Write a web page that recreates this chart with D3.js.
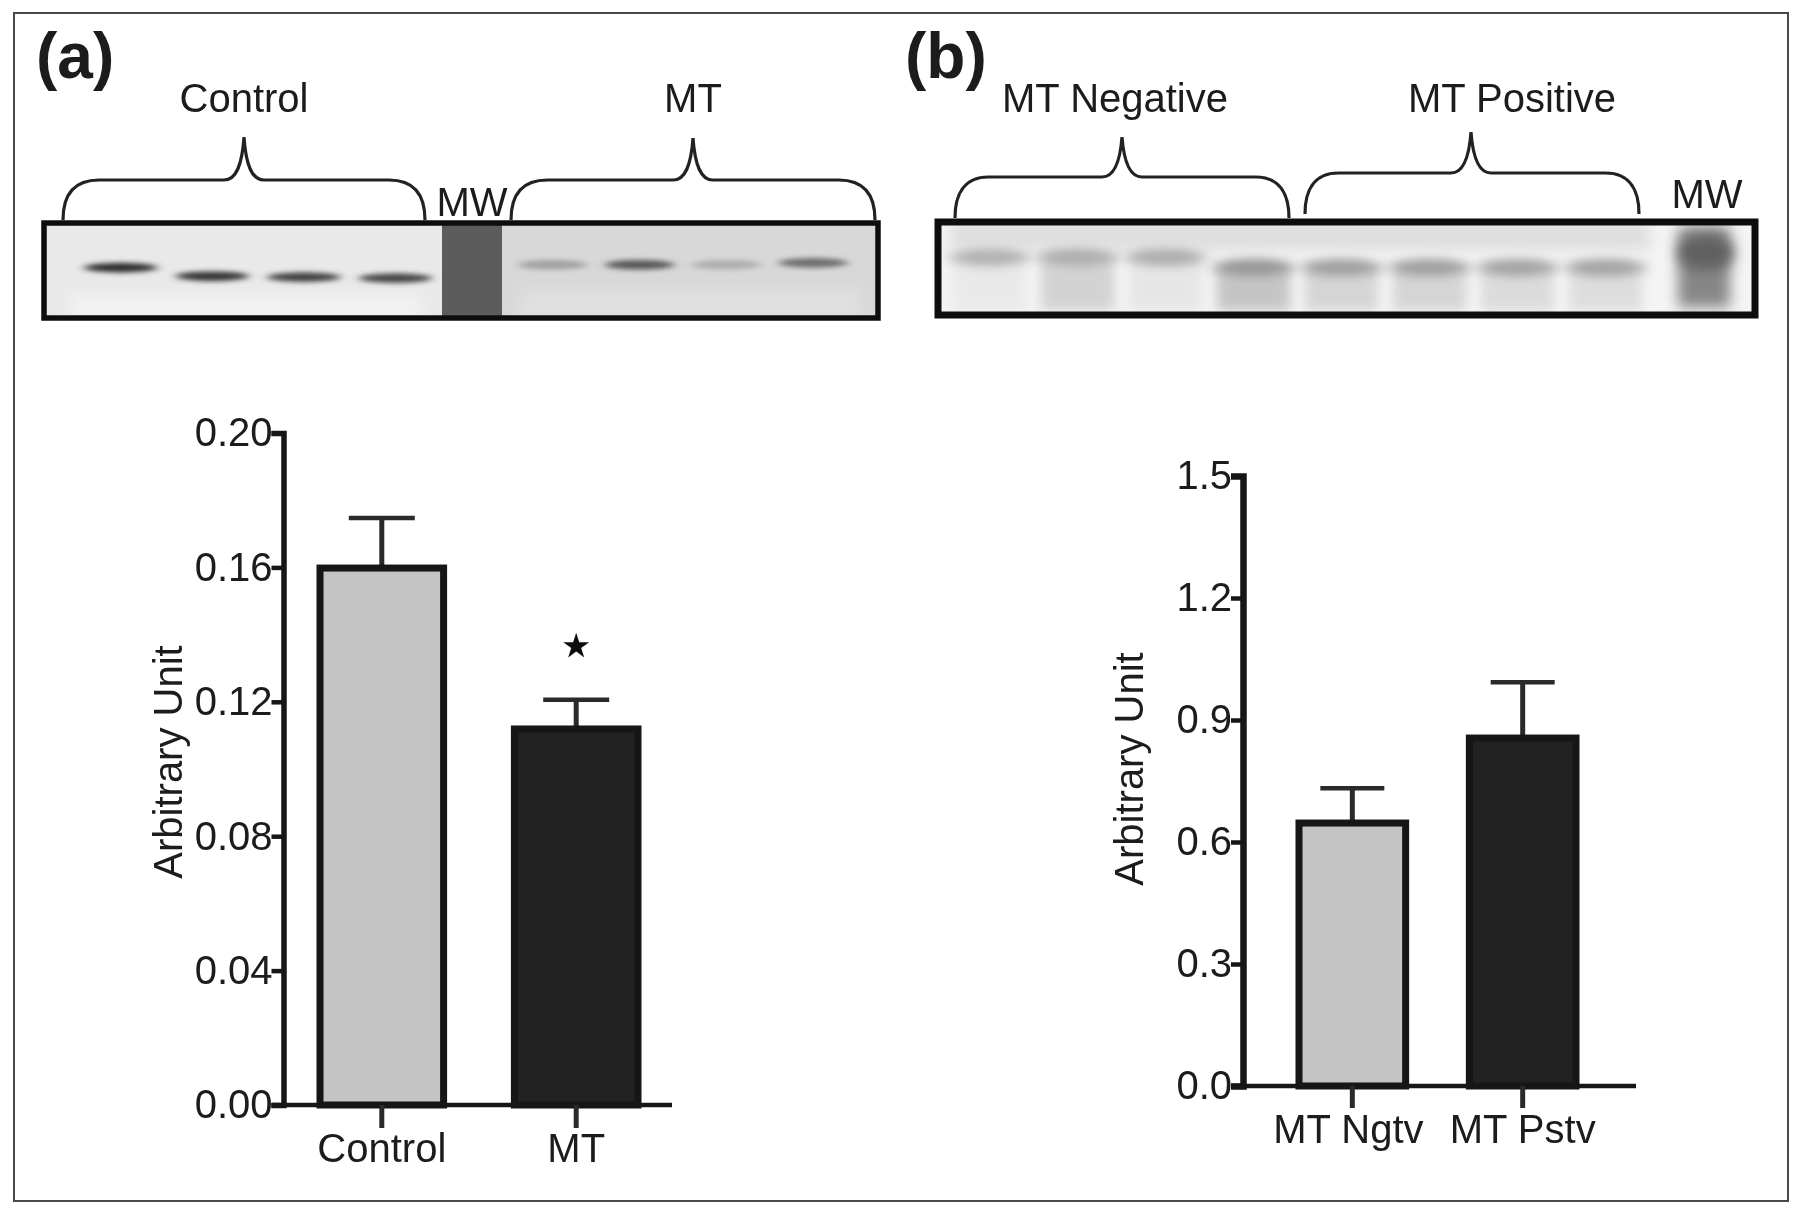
<!DOCTYPE html>
<html><head><meta charset="utf-8">
<script src="https://cdn.jsdelivr.net/npm/d3@7"></script>
<style>
html,body{margin:0;padding:0;background:#fff}
svg{display:block}
text{font-family:"Liberation Sans",Arial,sans-serif;fill:#1a1a1a}
</style></head><body>
<svg id="c" width="1800" height="1213"></svg>
<script>
// ---- chart data ----
const categoriesA = ["Control", "MT"];
const valuesA = [0.1607, 0.1128];
const errorsA = [0.0140, 0.0078];
const ticksA = [0, 0.04, 0.08, 0.12, 0.16, 0.20];
const categoriesB = ["MT Ngtv", "MT Pstv"];
const valuesB = [0.654, 0.863];
const errorsB = [0.078, 0.130];
const ticksB = [0, 0.3, 0.6, 0.9, 1.2, 1.5];
const yTitle = "Arbitrary Unit";
const barFills = ["#c4c4c4", "#232323"];
// blot lanes: band density (0-1) and migration (0 top - 1 bottom of the membrane)
const blotADensity = [0.92, 0.88, 0.82, 0.80, 0.38, 0.72, 0.32, 0.62];
const blotAMigration = [0.47, 0.56, 0.57, 0.58, 0.44, 0.44, 0.44, 0.42];
const blotBDensity = [0.30, 0.32, 0.32, 0.42, 0.38, 0.38, 0.36, 0.36];
const blotBMigration = [0.38, 0.38, 0.38, 0.49, 0.49, 0.49, 0.49, 0.49];
const blotBSmear = [0.05, 0.18, 0.07, 0.26, 0.17, 0.17, 0.13, 0.12];

const svg = d3.select("#c");
const defs = svg.append("defs");
[[5,2.8,"b1"],[6,6,"b2"],[8,5,"b3"],[7,7,"b4"]].forEach(([sx,sy,id])=>{
  defs.append("filter").attr("id",id).attr("x","-40%").attr("y","-200%").attr("width","180%").attr("height","500%")
    .append("feGaussianBlur").attr("stdDeviation",sx+" "+sy);
});
defs.append("filter").attr("id","soft").append("feGaussianBlur").attr("stdDeviation","0.6");

const root = svg.append("g").attr("filter","url(#soft)");
root.append("rect").attr("x",14).attr("y",13).attr("width",1774).attr("height",1188)
  .attr("fill","#fff").attr("stroke","#4a4a4a").attr("stroke-width",2);

// ---- panel letters ----
root.append("text").attr("x",36).attr("y",78).attr("font-size",64).attr("font-weight",700).attr("fill","#111").text("(a)");
root.append("text").attr("x",905).attr("y",78).attr("font-size",64).attr("font-weight",700).attr("fill","#111").text("(b)");

// ---- bar panels ----
function barPanel(o){
  const y = d3.scaleLinear().domain([0,o.ticks[o.ticks.length-1]]).range([o.y0,o.y1]);
  const x = d3.scaleBand().domain(o.cats).range(o.xr).paddingInner(o.pad).paddingOuter(0);
  const g = root.append("g");
  o.cats.forEach((c,i)=>{
    const cx = x(c)+x.bandwidth()/2, top=y(o.vals[i]), eTop=y(o.vals[i]+o.errs[i]);
    g.append("line").attr("x1",cx).attr("x2",cx).attr("y1",top).attr("y2",eTop).attr("stroke","#2a2a2a").attr("stroke-width",5);
    g.append("line").attr("x1",cx-o.cap).attr("x2",cx+o.cap).attr("y1",eTop).attr("y2",eTop).attr("stroke","#2a2a2a").attr("stroke-width",4.5);
    g.append("rect").attr("x",x(c)+4).attr("y",top+3).attr("width",x.bandwidth()-8).attr("height",y(0)-top-3)
      .attr("fill",barFills[i]).attr("stroke","#151515").attr("stroke-width",7);
  });
  const ay = d3.axisLeft(y).tickValues(o.ticks).tickFormat(d3.format(o.fmt)).tickSize(12).tickPadding(-1);
  const gy = g.append("g").attr("transform",`translate(${o.axisX},0)`).call(ay);
  gy.selectAll(".tick line").attr("stroke","#151515").attr("stroke-width",4.5);
  gy.select(".domain").attr("stroke","#151515").attr("stroke-width",o.axisW);
  gy.selectAll("text").attr("font-size",40).attr("fill","#1a1a1a").attr("font-family",'"Liberation Sans",Arial,sans-serif');
  const ax = d3.axisBottom(x).tickSize(o.tickLen).tickPadding(o.xPad);
  const gx = g.append("g").attr("transform",`translate(0,${o.y0})`).call(ax);
  gx.select(".domain").attr("d",`M${o.axisX-12},0H${o.axisEnd}`).attr("stroke","#151515").attr("stroke-width",4.5);
  gx.selectAll(".tick line").attr("stroke","#2a2a2a").attr("stroke-width",5);
  gx.selectAll("text").attr("font-size",40).attr("fill","#1a1a1a").attr("font-family",'"Liberation Sans",Arial,sans-serif')
    .attr("dx",(d,i)=>o.xDx[i]);
  g.append("text").attr("transform",`translate(${o.titleX},${o.titleY}) rotate(-90)`).attr("text-anchor","middle")
    .attr("font-size",40).text(yTitle);
  return {x,y};
}
const pa = barPanel({cats:categoriesA,vals:valuesA,errs:errorsA,ticks:ticksA,fmt:".2f",axisW:5.5,
  y0:1105,y1:433,xr:[316,642],pad:0.323,cap:33,axisX:283.5,axisEnd:672,tickLen:23,xPad:6,xDx:[0,0],titleX:182,titleY:762});
const pb = barPanel({cats:categoriesB,vals:valuesB,errs:errorsB,ticks:ticksB,fmt:".1f",axisW:6.5,
  y0:1086,y1:476,xr:[1295,1580],pad:0.327,cap:32,axisX:1243,axisEnd:1636,tickLen:22,xPad:7,xDx:[-4,0],titleX:1143,titleY:769});
// star
root.append("path").attr("d",d3.symbol(d3.symbolStar,210)()).attr("fill","#111")
  .attr("transform",`translate(${pa.x("MT")+pa.x.bandwidth()/2},${pa.y(0.1365)})`);

// ---- western blots ----
function blot(o){
  const g = root.append("g");
  const clip = "clip"+o.id;
  defs.append("clipPath").attr("id",clip).append("rect").attr("x",o.x0).attr("y",o.y0).attr("width",o.x1-o.x0).attr("height",o.y1-o.y0);
  const inner = g.append("g").attr("clip-path",`url(#${clip})`);
  const my = d3.scaleLinear().domain([0,1]).range([o.y0,o.y1]);
  const shade = d3.scaleLinear().domain([0,1]).range(["#f2f2f2","#1c1c1c"]);
  o.bg.forEach(b=>inner.append("rect").attr("x",b[0]).attr("y",o.y0).attr("width",b[1]-b[0]).attr("height",o.y1-o.y0).attr("fill",b[2]));
  o.extra(inner,my,shade);
  let k=0;
  o.laneGroups.forEach(([a,b,n])=>{
    const lane = d3.scaleBand().domain(d3.range(n)).range([a,b]).paddingInner(o.lanePad);
    d3.range(n).forEach(j=>{
      const d=o.density[k], m=o.migration[k];
      const cx=lane(j)+lane.bandwidth()/2, cy=my(m);
      if(o.smear) inner.append("rect").attr("x",lane(j)+3).attr("width",lane.bandwidth()-6)
          .attr("y",cy).attr("height",o.y1-cy-4).attr("fill",shade(o.smear[k])).attr("opacity",0.8).attr("filter","url(#b2)");
      inner.append("ellipse").attr("cx",cx).attr("cy",cy).attr("rx",lane.bandwidth()/2).attr("ry",o.bandRy)
        .attr("fill",shade(d)).attr("filter",`url(#${o.filter})`);
      k++;
    });
  });
  g.append("rect").attr("x",o.x0).attr("y",o.y0).attr("width",o.x1-o.x0).attr("height",o.y1-o.y0)
    .attr("fill","none").attr("stroke","#0c0c0c").attr("stroke-width",o.sw);
}
blot({id:"A",x0:44,x1:878,y0:223,y1:318,sw:5.5,density:blotADensity,migration:blotAMigration,
  laneGroups:[[84,432,4],[518,848,4]],lanePad:0.2,bandRy:4.8,filter:"b1",smear:null,
  bg:[[44,442,"#e9e9e9"],[442,502,"#5c5c5c"],[502,878,"#d8d8d8"]],
  extra:(g,my)=>{
    g.append("rect").attr("x",70).attr("y",my(0.75)).attr("width",350).attr("height",my(1.1)-my(0.75)).attr("fill","#f2f2f2").attr("filter","url(#b4)");
    g.append("rect").attr("x",520).attr("y",my(0.7)).attr("width",340).attr("height",my(1.1)-my(0.7)).attr("fill","#e0e0e0").attr("filter","url(#b4)");
  }});
blot({id:"B",x0:938,x1:1755,y0:222,y1:315,sw:7,density:blotBDensity,migration:blotBMigration,smear:blotBSmear,
  laneGroups:[[950,1645,8]],lanePad:0.1,bandRy:9,filter:"b3",
  bg:[[938,1755,"#f4f4f4"]],
  extra:(g,my,shade)=>{
    g.append("rect").attr("x",950).attr("y",my(0)).attr("width",700).attr("height",my(0.3)-my(0)).attr("fill","#dedede").attr("filter","url(#b4)");
    g.append("rect").attr("x",1678).attr("y",my(0.05)).attr("width",52).attr("height",my(0.92)-my(0.05)).attr("fill",shade(0.5)).attr("filter","url(#b4)");
    g.append("ellipse").attr("cx",1706).attr("cy",my(0.33)).attr("rx",28).attr("ry",18).attr("fill",shade(0.68)).attr("filter","url(#b4)");
  }});

// ---- brackets ----
function brace(x0,x1,xm,base,top,peak){
  const r=(x1-x0)*0.1, n=20;
  const p=d3.path();
  p.moveTo(x0,base);
  p.bezierCurveTo(x0,base-22,x0+8,top,x0+r,top);
  p.lineTo(xm-n,top);
  p.bezierCurveTo(xm-8,top,xm-2,top-14,xm,peak);
  p.bezierCurveTo(xm+2,top-14,xm+8,top,xm+n,top);
  p.lineTo(x1-r,top);
  p.bezierCurveTo(x1-8,top,x1,base-22,x1,base);
  return p.toString();
}
const braces = [[63,425,244,220,180,137],[511,875,693,220,180,138],[955,1289,1122,218,177,137],[1305,1639,1471,214,173,132]];
root.selectAll(".br").data(braces).join("path").attr("class","br").attr("fill","none").attr("stroke","#222").attr("stroke-width",3.2)
  .attr("d",d=>brace(...d));

// ---- blot labels ----
const blotLabels = [["Control",244,112],["MT",693,112],["MT Negative",1115,112],["MT Positive",1512,112],["MW",472,216],["MW",1707,208]];
root.selectAll(".bl").data(blotLabels).join("text").attr("class","bl").attr("text-anchor","middle").attr("font-size",40)
  .attr("x",d=>d[1]).attr("y",d=>d[2]).text(d=>d[0]);
</script>
</body></html>
